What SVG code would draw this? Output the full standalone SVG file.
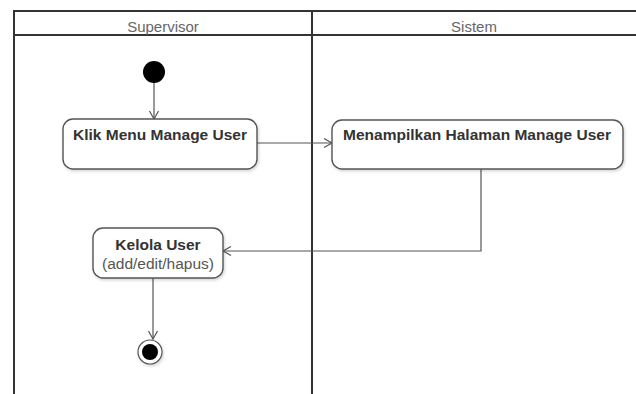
<svg xmlns="http://www.w3.org/2000/svg" width="636" height="394" viewBox="0 0 636 394">
  <style>
    .lane { fill: none; stroke: #333; stroke-width: 2; }
    .lane-title { font-family: "Liberation Sans", Arial, sans-serif; font-size: 15px; fill: #666; text-anchor: middle; }
    .action { fill: #fff; stroke: #555; stroke-width: 1.4; filter: url(#soft); }
    .label { font-family: "Liberation Sans", Arial, sans-serif; font-size: 15.5px; font-weight: bold; fill: #333; text-anchor: middle; }
    .sub { font-family: "Liberation Sans", Arial, sans-serif; font-size: 15.5px; fill: #555; text-anchor: middle; }
    .flow { fill: none; stroke: #555; stroke-width: 1.2; marker-end: url(#open); }
  </style>
  <defs>
    <marker id="open" markerWidth="12" markerHeight="12" refX="10" refY="6" orient="auto" markerUnits="userSpaceOnUse">
      <path d="M2,1.5 L10,6 L2,10.5" fill="none" stroke="#555" stroke-width="1.2"/>
    </marker>
    <filter id="soft" x="-10%" y="-20%" width="120%" height="140%">
      <feDropShadow dx="1" dy="1.5" stdDeviation="1.5" flood-color="#000" flood-opacity="0.18"/>
    </filter>
  </defs>
  <rect width="636" height="394" fill="#fff"/>

  <!-- swimlanes -->
  <g id="lanes">
    <path class="lane" d="M14,396 V11 H638"/>
    <path class="lane" d="M14,35 H638"/>
    <path class="lane" d="M312,11 V396"/>
    <text class="lane-title" x="163" y="32">Supervisor</text>
    <text class="lane-title" x="474" y="32">Sistem</text>
  </g>

  <!-- connectors -->
  <g id="connectors">
    <path class="flow" d="M154,80 V119"/>
    <path class="flow" d="M257,143 H332"/>
    <path class="flow" d="M481,169 V251 H223"/>
    <path class="flow" d="M153,278 V339"/>
  </g>

  <g id="start">
    <circle cx="154" cy="72" r="11" fill="#000"/>
  </g>

  <g id="klik-menu">
    <rect class="action" x="63" y="119" width="194" height="50" rx="10"/>
    <text class="label" x="160" y="140">Klik Menu Manage User</text>
  </g>

  <g id="tampil-halaman">
    <rect class="action" x="332" y="120" width="291" height="49" rx="10"/>
    <text class="label" x="477" y="140">Menampilkan Halaman Manage User</text>
  </g>

  <g id="kelola-user">
    <rect class="action" x="93" y="228" width="130" height="50" rx="10"/>
    <text class="label" x="158" y="250">Kelola User</text>
    <text class="sub" x="158" y="269">(add/edit/hapus)</text>
  </g>

  <g id="end">
    <circle cx="150" cy="352" r="12" fill="#fff" stroke="#555" stroke-width="1.2" filter="url(#soft)"/>
    <circle cx="150" cy="352" r="8" fill="#000"/>
  </g>
</svg>
